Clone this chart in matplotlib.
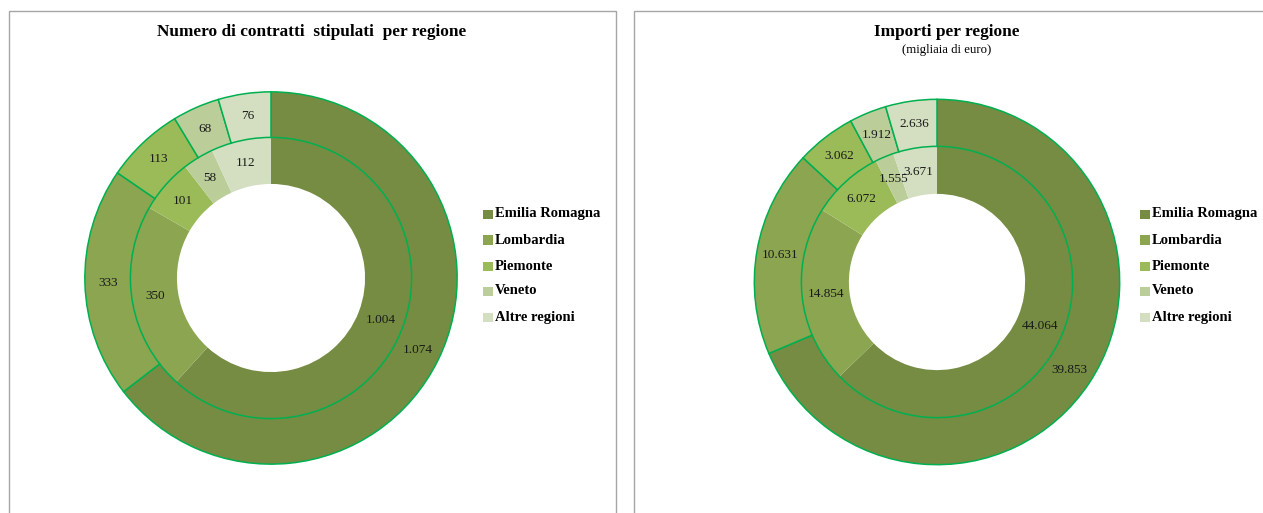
import matplotlib
matplotlib.use("Agg")
import matplotlib.pyplot as plt
from matplotlib.patches import Rectangle

plt.rcParams['font.family'] = ['Liberation Serif', 'DejaVu Serif']

regions = ["Emilia Romagna", "Lombardia", "Piemonte", "Veneto", "Altre regioni"]
colors = ["#758C42", "#8BA551", "#9BBB59", "#BBCE9A", "#D3DFC0"]

contratti_inner = [1004, 350, 101, 58, 112]
contratti_outer = [1074, 333, 113, 68, 76]

importi_inner = [44064, 14854, 6072, 1555, 3671]
importi_outer = [39853, 10631, 3062, 1912, 2636]

W, H = 1263, 513
fig = plt.figure(figsize=(W / 100, H / 100), dpi=100)

EDGE = "#00B050"


def fmt(v):
    return f"{v:,}".replace(",", ".")


def px_axes(cx, cy, r):
    return fig.add_axes([(cx - r) / W, (H - cy - r) / H, 2 * r / W, 2 * r / H])


def donut(ax, inner, outer, r_mid, r_hole):
    # inner ring
    w_in, t_in = ax.pie(inner, radius=r_mid, colors=colors, startangle=90,
                        counterclock=False, labels=[fmt(v) for v in inner],
                        labeldistance=(r_mid + r_hole) / 2 / r_mid,
                        wedgeprops=dict(width=r_mid - r_hole, linewidth=0, edgecolor='none'),
                        textprops=dict(fontsize=9.5, color="#1a1a1a"))
    w_out, t_out = ax.pie(outer, radius=1.0, colors=colors, startangle=90,
                          counterclock=False, labels=[fmt(v) for v in outer],
                          labeldistance=(1.0 + r_mid) / 2,
                          wedgeprops=dict(width=1.0 - r_mid, linewidth=1.1, edgecolor=EDGE),
                          textprops=dict(fontsize=9.5, color="#1a1a1a"))
    for t in list(t_in) + list(t_out):
        t.set_ha('center')
        t.set_va('center')
    ax.set_xlim(-1.01, 1.01)
    ax.set_ylim(-1.01, 1.01)
    ax.set_aspect('equal')
    ax.axis('off')


# panel borders
fig.patches.append(Rectangle((9 / W, -0.05), (616 - 9) / W, (H - 11) / H + 0.05,
                             transform=fig.transFigure, fill=False,
                             edgecolor="#A6A6A6", linewidth=1.0))
fig.patches.append(Rectangle((634 / W, -0.05), (W + 20 - 634) / W, (H - 11) / H + 0.05,
                             transform=fig.transFigure, fill=False,
                             edgecolor="#A6A6A6", linewidth=1.0))

axL = px_axes(271, 278, 188)
donut(axL, contratti_inner, contratti_outer, 142 / 188, 95 / 188)

axR = px_axes(937, 282, 184.5)
donut(axR, importi_inner, importi_outer, 137 / 184.5, 89 / 184.5)

# titles
fig.text(312 / W, 1 - 32 / H, "Numero di contratti  stipulati  per regione",
         ha='center', va='center', fontsize=12.4, fontweight='bold')
fig.text(947 / W, 1 - 32 / H, "Importi per regione",
         ha='center', va='center', fontsize=12.4, fontweight='bold')
fig.text(947 / W, 1 - 50 / H, "(migliaia di euro)",
         ha='center', va='center', fontsize=9.2)


# legends
def legend(x0, ys):
    for name, col, y in zip(regions, colors, ys):
        fig.patches.append(Rectangle((x0 / W, 1 - (y + 4.5) / H), 10 / W, 9 / H,
                                     transform=fig.transFigure, facecolor=col,
                                     edgecolor='none'))
        fig.text((x0 + 12) / W, 1 - y / H, name, ha='left', va='center',
                 fontsize=10.5, fontweight='bold')


rows = [214, 240, 266, 291, 317]
legend(483, rows)
legend(1140, rows)

fig.savefig("out.png", dpi=100)
